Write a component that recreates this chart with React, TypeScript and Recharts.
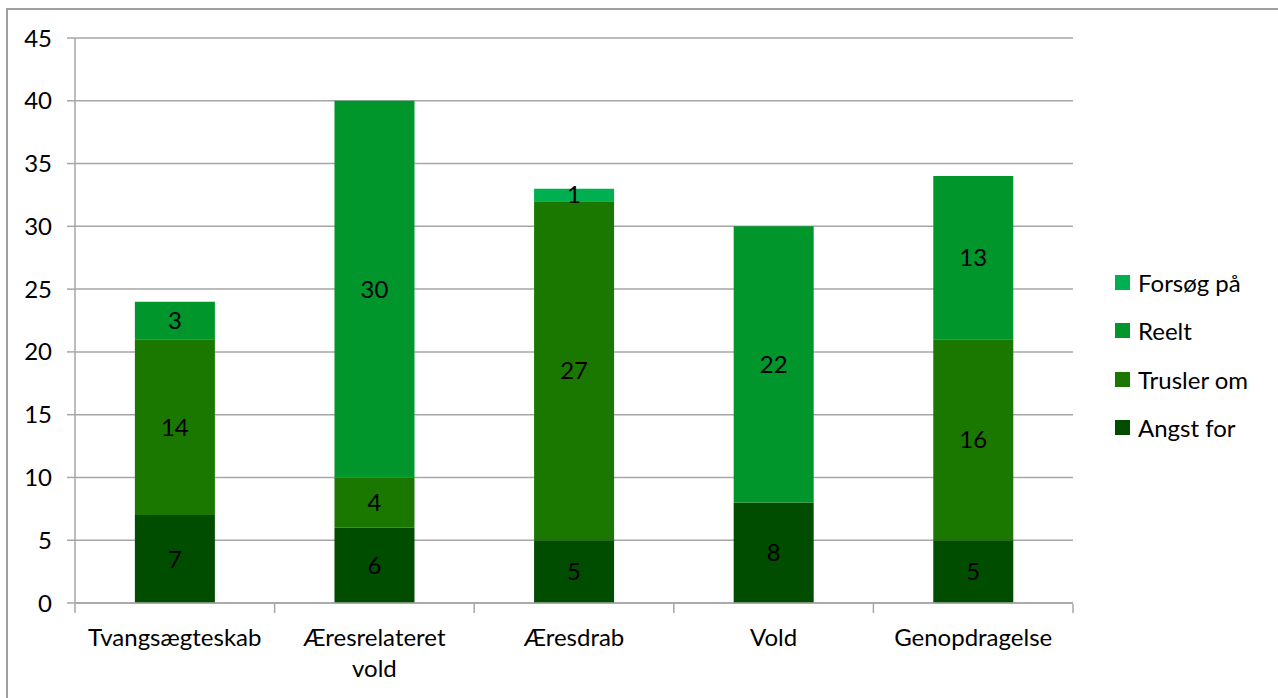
import React from "react";
import { BarChart, Bar, XAxis, YAxis, CartesianGrid, LabelList } from "recharts";

const categories = ["Tvangsægteskab", "Æresrelateret vold", "Æresdrab", "Vold", "Genopdragelse"];
const angstFor = [7, 6, 5, 8, 5];
const truslerOm = [14, 4, 27, 0, 16];
const reelt = [3, 30, 0, 22, 13];
const forsoegPaa = [0, 0, 1, 0, 0];
const yTicks = [0, 5, 10, 15, 20, 25, 30, 35, 40, 45];
const boundaryTicks = [0, 1, 2, 3, 4, 5];

const series = [
  { key: "angst", name: "Angst for", values: angstFor, color: "#004d00" },
  { key: "trusler", name: "Trusler om", values: truslerOm, color: "#1a7800" },
  { key: "reelt", name: "Reelt", values: reelt, color: "#00962b" },
  { key: "forsoeg", name: "Forsøg på", values: forsoegPaa, color: "#00b050" },
];

const data = categories.map((c, i) => {
  const row: any = { name: c, idx: i + 0.5 };
  series.forEach((s) => (row[s.key] = s.values[i]));
  return row;
});

const FONT = "Lato, 'Open Sans', sans-serif";
const FS = 24;
const MAX_CHARS = 15;

const wrapLabel = (label: string): string[] => {
  const words = label.split(" ");
  const lines: string[] = [];
  let cur = "";
  words.forEach((w) => {
    const next = cur ? cur + " " + w : w;
    if (next.length > MAX_CHARS && cur) {
      lines.push(cur);
      cur = w;
    } else {
      cur = next;
    }
  });
  if (cur) lines.push(cur);
  return lines;
};

const CatTick = (props: any) => {
  const { x, y, payload } = props;
  const lines = wrapLabel(String(payload.value));
  return (
    <text x={x} y={y + 34} textAnchor="middle" fontSize={FS} fill="#000" fontFamily={FONT}>
      {lines.map((l, i) => (
        <tspan key={i} x={x} dy={i === 0 ? 0 : 31}>
          {l}
        </tspan>
      ))}
    </text>
  );
};

const BoundTick = (props: any) => {
  const { x, y } = props;
  return <line x1={x} x2={x} y1={y - 1} y2={y + 8} stroke="#a6a6a6" strokeWidth={1.5} />;
};

export default function App() {
  return (
    <div style={{ position: "absolute", left: 0, top: 0, width: 1278, height: 698, background: "#fff", fontFamily: FONT }}>
      <div
        style={{
          position: "absolute",
          left: 6,
          top: 8,
          width: 1272,
          height: 690,
          border: "2px solid #a0a0a0",
          borderRight: "none",
          borderBottom: "none",
          boxSizing: "border-box",
        }}
      />
      <div style={{ position: "absolute", left: 0, top: 0 }}>
        <BarChart
          width={1278}
          height={698}
          data={data}
          margin={{ top: 38, right: 205, bottom: 35, left: 15 }}
          barCategoryGap="30%"
        >
          <CartesianGrid vertical={false} stroke="#a6a6a6" strokeWidth={1.5} />
          <XAxis
            xAxisId="bounds"
            type="number"
            dataKey="idx"
            domain={[0, 5]}
            ticks={boundaryTicks}
            interval={0}
            height={1}
            axisLine={{ stroke: "#a6a6a6", strokeWidth: 1.5 }}
            tickLine={false}
            tickSize={0}
            tick={<BoundTick />}
            allowDataOverflow
          />
          <XAxis
            xAxisId="cat"
            dataKey="name"
            height={59}
            axisLine={false}
            tickLine={false}
            tick={<CatTick />}
            interval={0}
          />
          <YAxis
            width={60}
            domain={[0, 45]}
            ticks={yTicks}
            tickSize={8}
            tickMargin={15}
            axisLine={{ stroke: "#a6a6a6", strokeWidth: 1.5 }}
            tickLine={{ stroke: "#a6a6a6", strokeWidth: 1.5 }}
            tick={{ fontSize: FS, fill: "#000", fontFamily: FONT }}
          />
          {series.map((s) => (
            <Bar key={s.key} xAxisId="cat" dataKey={s.key} name={s.name} stackId="a" fill={s.color} isAnimationActive={false}>
              <LabelList
                dataKey={s.key}
                position="center"
                fill="#000"
                fontSize={FS}
                fontFamily={FONT}
                formatter={(v: any) => (v ? v : "")}
              />
            </Bar>
          ))}
        </BarChart>
      </div>
      <div style={{ position: "absolute", left: 1115, top: 258 }}>
        {[...series].reverse().map((s) => (
          <div key={s.key} style={{ display: "flex", alignItems: "center", height: 48.5 }}>
            <div style={{ width: 15, height: 15, background: s.color, marginRight: 8 }} />
            <span style={{ fontSize: FS, color: "#000", fontFamily: FONT }}>{s.name}</span>
          </div>
        ))}
      </div>
    </div>
  );
}
